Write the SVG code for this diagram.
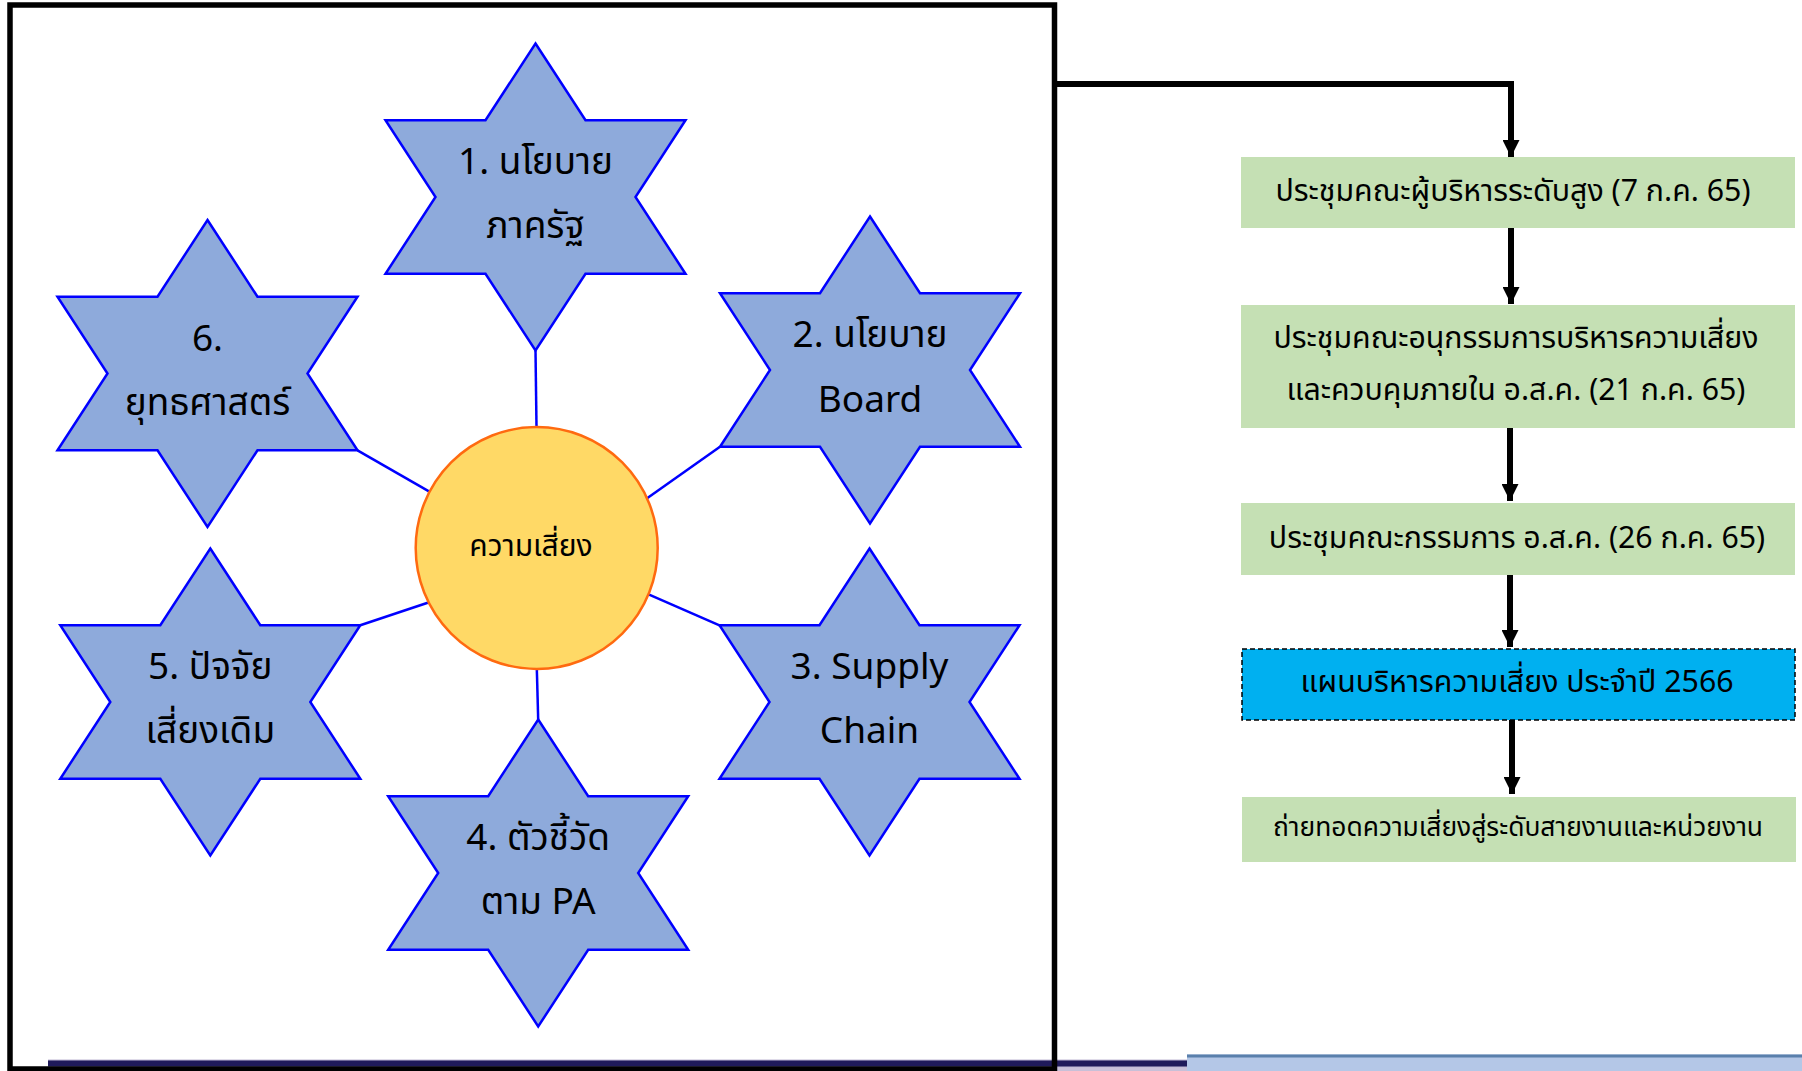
<svg xmlns="http://www.w3.org/2000/svg" width="1802" height="1071" viewBox="0 0 1802 1071">
<defs>
<style>
text{font-family:"Noto Sans Thai","Noto Sans","Liberation Sans",sans-serif;fill:#000;text-anchor:middle}
.star{fill:#8EAADB;stroke:#0000FF;stroke-width:2.5;stroke-linejoin:miter}
.st{font-size:37px}
.box{fill:#C5E0B4}
.bt{font-size:30.3px}
.link{stroke:#0000FF;stroke-width:2.5;fill:none}
.flow{stroke:#000;stroke-width:6;fill:none;marker-end:url(#arrow)}
</style>
<path id="star" d="M0,-153.5 L50,-76.75 L150,-76.75 L100,0 L150,76.75 L50,76.75 L0,153.5 L-50,76.75 L-150,76.75 L-100,0 L-150,-76.75 L-50,-76.75 Z"/>
<marker id="arrow" markerUnits="userSpaceOnUse" markerWidth="17" markerHeight="17" refX="17" refY="8.5" orient="auto" viewBox="0 0 17 17">
<path d="M0,0 L17,8.5 L0,17 Z" fill="#000"/>
</marker>
</defs>
<rect width="1802" height="1071" fill="#FFFFFF"/>
<g id="bottom-strip">
<rect x="1057" y="1066" width="130" height="5" fill="#C8C0D8"/>
<rect x="48" y="1059.5" width="1139" height="8" fill="#C0B8D4"/>
<rect x="48" y="1060.5" width="1139" height="6" fill="#1F1A5A"/>
<rect x="1187" y="1054.5" width="615" height="17" fill="#B4C7E7"/>
<rect x="1187" y="1054.5" width="615" height="3" fill="#5A80AC"/>
</g>
<rect id="frame" x="10" y="5" width="1044.5" height="1064" fill="none" stroke="#000" stroke-width="5.5"/>
<g id="connectors">
<line class="link" x1="535.5" y1="350.5" x2="536.5" y2="427"/>
<line class="link" x1="720" y1="446.8" x2="645.7" y2="499.3"/>
<line class="link" x1="357.5" y1="450.3" x2="430.7" y2="492.4"/>
<line class="link" x1="430.7" y1="601.8" x2="360.3" y2="625.3"/>
<line class="link" x1="645.7" y1="593.1" x2="719.5" y2="625.3"/>
<line class="link" x1="536.8" y1="668" x2="538.2" y2="719.5"/>
<path class="flow" d="M1054,84 H1511 V157"/>
<line class="flow" x1="1511" y1="228" x2="1511" y2="304"/>
<line class="flow" x1="1510" y1="428" x2="1510" y2="501"/>
<line class="flow" x1="1510" y1="575" x2="1510" y2="647"/>
<line class="flow" x1="1512" y1="720" x2="1512" y2="794"/>
</g>
<g id="node-risk">
<circle cx="536.7" cy="548" r="121" fill="#FFD966" stroke="#FF6A10" stroke-width="2.5"/>
<text x="531" y="556" font-size="30">ความเสี่ยง</text>
</g>
<g id="node-star1">
<use href="#star" class="star" x="535.5" y="197"/>
<text class="st" x="535.5" y="174">1. นโยบาย</text>
<text class="st" x="535.5" y="238">ภาครัฐ</text>
</g>
<g id="node-star2">
<use href="#star" class="star" x="870" y="370"/>
<text class="st" x="870" y="347">2. นโยบาย</text>
<text class="st" x="870" y="412">Board</text>
</g>
<g id="node-star3">
<use href="#star" class="star" x="869.5" y="702"/>
<text class="st" x="869.5" y="679">3. Supply</text>
<text class="st" x="869.5" y="743">Chain</text>
</g>
<g id="node-star4">
<use href="#star" class="star" x="538.2" y="873"/>
<text class="st" x="538.2" y="850">4. ตัวชี้วัด</text>
<text class="st" x="538.2" y="914">ตาม PA</text>
</g>
<g id="node-star5">
<use href="#star" class="star" x="210.3" y="702"/>
<text class="st" x="210.3" y="679">5. ปัจจัย</text>
<text class="st" x="210.3" y="743">เสี่ยงเดิม</text>
</g>
<g id="node-star6">
<use href="#star" class="star" x="207.5" y="373.5"/>
<text class="st" x="207.5" y="351">6.</text>
<text class="st" x="207.5" y="415">ยุทธศาสตร์</text>
</g>
<g id="node-box1">
<rect class="box" x="1241" y="157" width="554" height="71"/>
<text class="bt" x="1513" y="201">ประชุมคณะผู้บริหารระดับสูง (7 ก.ค. 65)</text>
</g>
<g id="node-box2">
<rect class="box" x="1241" y="305" width="554" height="123"/>
<text class="bt" x="1516" y="348">ประชุมคณะอนุกรรมการบริหารความเสี่ยง</text>
<text class="bt" x="1516" y="400">และควบคุมภายใน อ.ส.ค. (21 ก.ค. 65)</text>
</g>
<g id="node-box3">
<rect class="box" x="1241" y="503" width="554" height="72"/>
<text class="bt" x="1517" y="548">ประชุมคณะกรรมการ อ.ส.ค. (26 ก.ค. 65)</text>
</g>
<g id="node-box4">
<rect x="1242" y="649" width="553" height="71" fill="#00B0F0" stroke="#000" stroke-width="1.5" stroke-dasharray="5,3"/>
<text class="bt" x="1517" y="692">แผนบริหารความเสี่ยง ประจำปี 2566</text>
</g>
<g id="node-box5">
<rect class="box" x="1242" y="797" width="554" height="65"/>
<text x="1518" y="836" font-size="26.4">ถ่ายทอดความเสี่ยงสู่ระดับสายงานและหน่วยงาน</text>
</g>
</svg>
